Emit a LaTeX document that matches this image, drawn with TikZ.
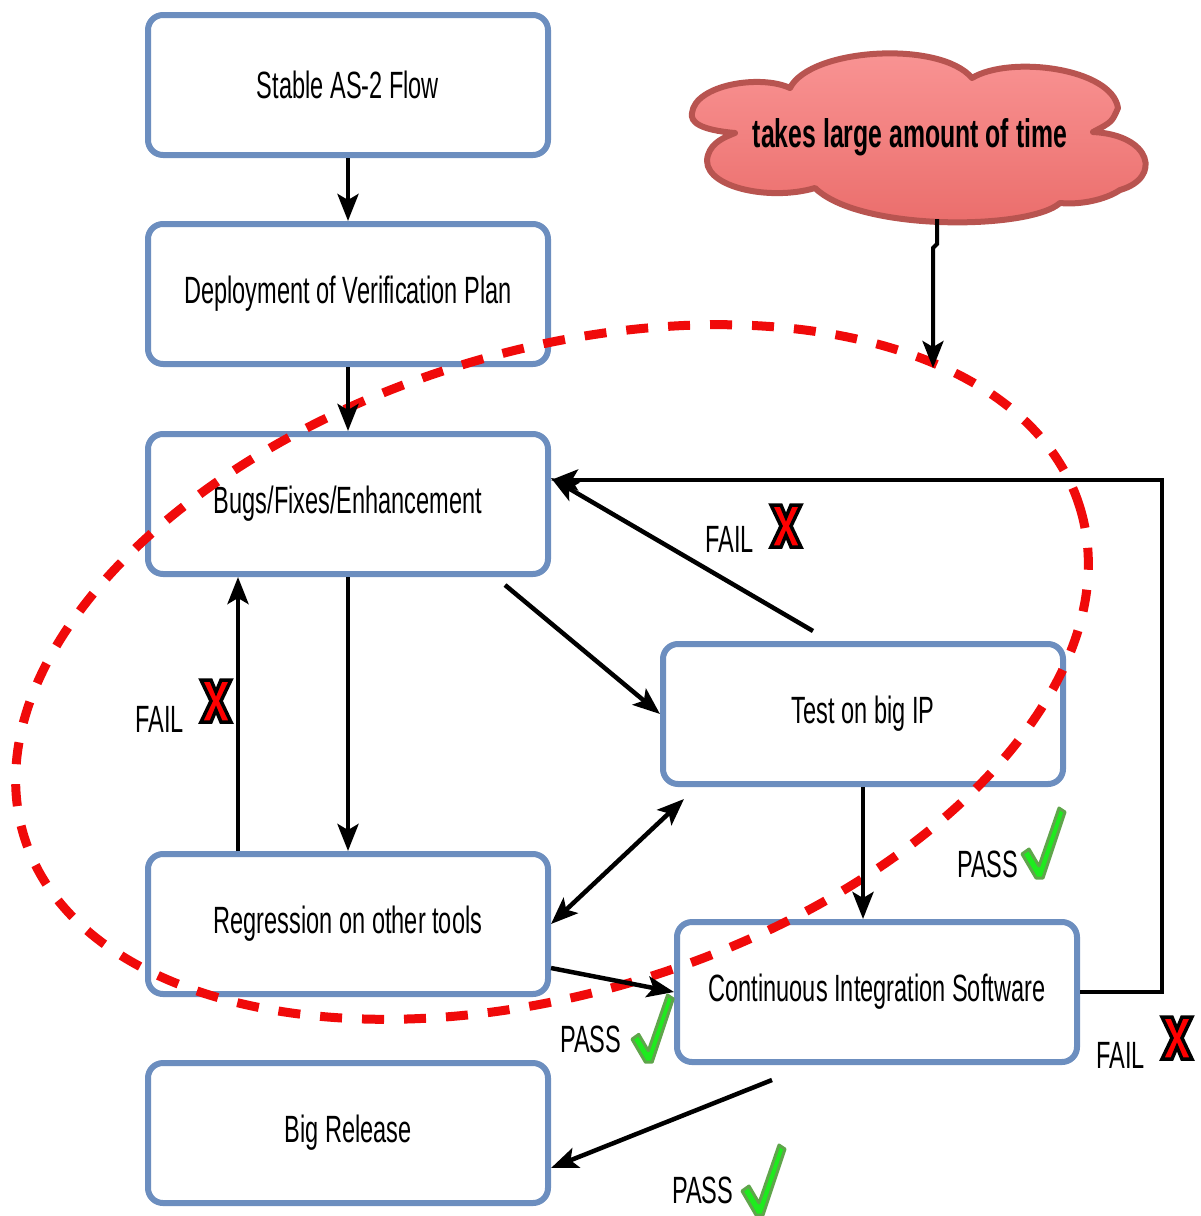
\documentclass[tikz,border=0pt]{standalone}
\usepackage{fontspec}
\setmainfont{Liberation Sans}
\newfontfamily\narrowsans[FakeStretch=0.62]{Liberation Sans}
\usetikzlibrary{arrows.meta}

\definecolor{boxblue}{RGB}{108,142,191}
\definecolor{cloudedge}{RGB}{184,84,80}
\definecolor{cloudtop}{RGB}{250,150,150}
\definecolor{cloudbottom}{RGB}{234,108,106}
\definecolor{tickgreen}{RGB}{30,235,30}
\definecolor{tickedge}{RGB}{95,165,75}
\definecolor{crossred}{RGB}{255,0,0}
\definecolor{loopred}{RGB}{240,10,10}

\tikzset{
  stepbox/.style={draw=boxblue, line width=6pt, fill=white, rounded corners=15pt,
    minimum width=400pt, minimum height=140pt, inner sep=0pt,
    font=\narrowsans\fontsize{38}{44}\selectfont},
  flow/.style={line width=4.5pt, -{Stealth[length=27pt,width=21pt,inset=6pt]}},
  flowboth/.style={line width=4.5pt, {Stealth[length=27pt,width=21pt,inset=6pt]}-{Stealth[length=27pt,width=21pt,inset=6pt]}},
  verdict/.style={font=\narrowsans\fontsize{38}{44}\selectfont, inner sep=0pt, anchor=base west},
  tick/.pic={
    \filldraw[fill=tickgreen, draw=tickedge, line width=3pt, line join=round]
      (0,46) -- (7,41) -- (17,58) -- (37,0) -- (43,4) -- (21,70) -- (14,70) -- cycle;
  },
  cross/.pic={
    \filldraw[fill=crossred, draw=black, line width=3.5pt, line join=miter]
      (-15,-21) -- (-5,-21) -- (0,-9) -- (5,-21) -- (15,-21) -- (5,0) -- (15,21)
      -- (5,21) -- (0,9) -- (-5,21) -- (-15,21) -- (-5,0) -- cycle;
  },
}

\begin{document}
\begin{tikzpicture}[x=1pt, y=-1pt]
\useasboundingbox (0,0) rectangle (1200,1216);

% process boxes
\node[stepbox] (b1) at (348,85)   {Stable AS-2 Flow};
\node[stepbox] (b2) at (348,294)  {Deployment of Verification Plan};
\node[stepbox] (b3) at (348,504)  {Bugs/Fixes/Enhancement};
\node[stepbox] (b4) at (863,714)  {Test on big IP};
\node[stepbox] (b5) at (348,924)  {Regression on other tools};
\node[stepbox] (b6) at (877,992)  {Continuous Integration Software};
\node[stepbox] (b7) at (348,1133) {Big Release};

% cloud callout
\draw[line width=6pt, cloudedge, top color=cloudtop, bottom color=cloudbottom, line join=round]
  (692,113) .. controls (695,85) and (760,74) .. (790,88)
  .. controls (810,48) and (940,40) .. (972,78)
  .. controls (1010,55) and (1112,68) .. (1118,108)
  .. controls (1112,122) .. (1093,132)
  .. controls (1152,135) and (1162,178) .. (1120,190)
  .. controls (1105,200) and (1080,205) .. (1060,203)
  .. controls (1030,230) and (860,232) .. (815,188)
  .. controls (768,202) and (698,186) .. (708,155)
  .. controls (712,142) and (725,137) .. (735,133)
  .. controls (700,130) and (690,122) .. (692,113) -- cycle;
\node[font=\narrowsans\bfseries\fontsize{40}{46}\selectfont, anchor=base, inner sep=0pt]
  (cloudtext) at (910,147) {takes large amount of time};

% dashed loop around the iteration cycle
\draw[loopred, line width=9pt, dash pattern=on 22pt off 20pt, rotate around={17.4:(552,672)}]
  (552,672) ellipse [x radius=553, y radius=320];

% connectors
\coordinate (cloudfoot) at (937,219);
\coordinate (cloudpoint) at (933,368);
\draw[flow, line width=4pt] (cloudfoot) -- ++(0,25) -- ++(-4,4) -- (cloudpoint);

\draw[flow] (b1.south) -- (b2.north);
\draw[flow] (b2.south) -- (b3.north);
\draw[flow] (b3.south) -- (b5.north);
\draw[flow] ([xshift=-110pt]b5.north) -- ([xshift=-110pt]b3.south);
\draw[flow] ([xshift=-46pt,yshift=-8pt]b3.south east) -- (b4.west);
\draw[flow] ([xshift=-50pt,yshift=10pt]b4.north) -- ([yshift=26pt]b3.east);
\draw[flowboth] (b5.east) -- ([xshift=24pt,yshift=-12pt]b4.south west);
\draw[flow] (b4.south) -- (b4.south |- b6.north);
\draw[flow] ([yshift=-44pt]b5.east) -- (b6.west);
\coordinate (loopcorner) at (1162,480);
\draw[flow] (b6.east) -| (loopcorner) -- ([yshift=24pt]b3.east);
\draw[flow] ([xshift=-105pt,yshift=-15pt]b6.south) -- ([yshift=-35pt]b7.east);

% verdict labels
\node[verdict] (fail1) at (705,552) {FAIL};
\pic at (786,526) {cross};
\node[verdict] (fail2) at (135,732) {FAIL};
\pic at (216,701) {cross};
\node[verdict] (fail3) at (1096,1068) {FAIL};
\pic at (1177,1038) {cross};

\node[verdict] (pass1) at (957,877) {PASS};
\pic at (1022,808) {tick};
\node[verdict] (pass2) at (560,1052) {PASS};
\pic[scale=0.96] at (632,995) {tick};
\node[verdict] (pass3) at (672,1203) {PASS};
\pic at (742,1145) {tick};
\end{tikzpicture}
\end{document}
